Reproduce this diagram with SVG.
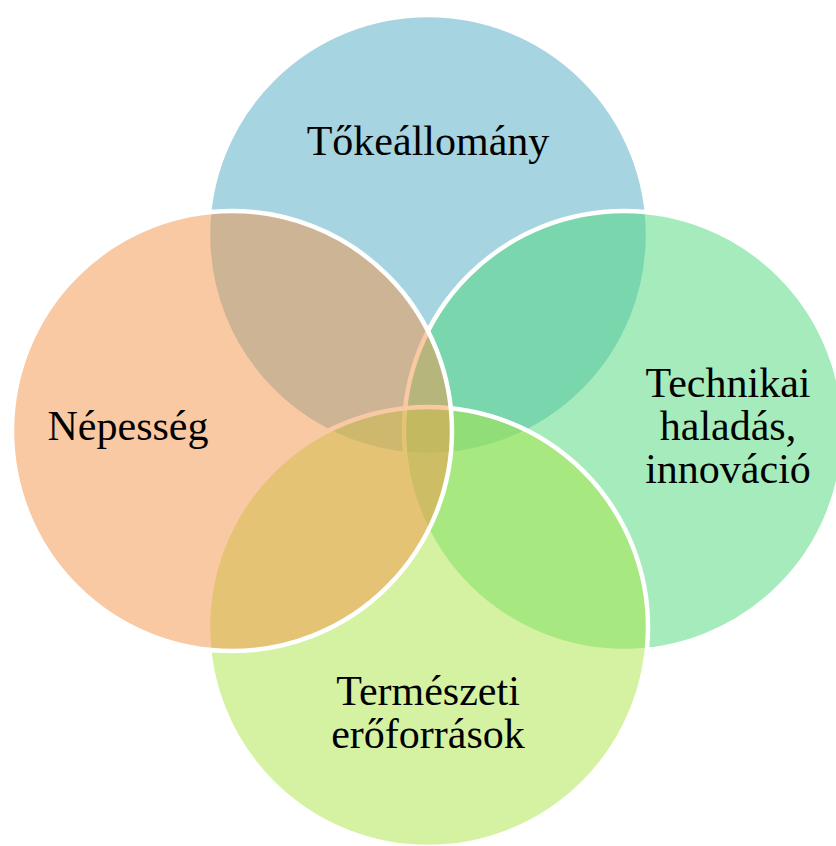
<svg xmlns="http://www.w3.org/2000/svg" width="836" height="846" viewBox="0 0 836 846">
<style>
.c{stroke:#ffffff;stroke-width:4.5;fill-opacity:0.5}
.t{font-family:"Liberation Serif","Times New Roman",serif;font-size:42px;fill:#000000;text-anchor:middle}
</style>
<rect width="836" height="846" fill="#ffffff"/>
<g id="node-tokeallomany">
<circle class="c" cx="428" cy="235" r="220" fill="#4da9c3"/>
</g>
<g id="node-technikai">
<circle class="c" cx="624" cy="431" r="220" fill="#4bd779"/>
</g>
<g id="node-termeszeti">
<circle class="c" cx="428" cy="627" r="220" fill="#a9e543"/>
</g>
<g id="node-nepesseg">
<circle class="c" cx="232" cy="431" r="220" fill="#f39349"/>
</g>
<g id="labels">
<text class="t" x="428" y="155">Tőkeállomány</text>
<text class="t" x="128" y="440">Népesség</text>
<text class="t" x="728" y="397">Technikai</text>
<text class="t" x="728" y="440">haladás,</text>
<text class="t" x="728" y="483">innováció</text>
<text class="t" x="428" y="705">Természeti</text>
<text class="t" x="428" y="748">erőforrások</text>
</g>
<g id="connectors"></g>
</svg>
